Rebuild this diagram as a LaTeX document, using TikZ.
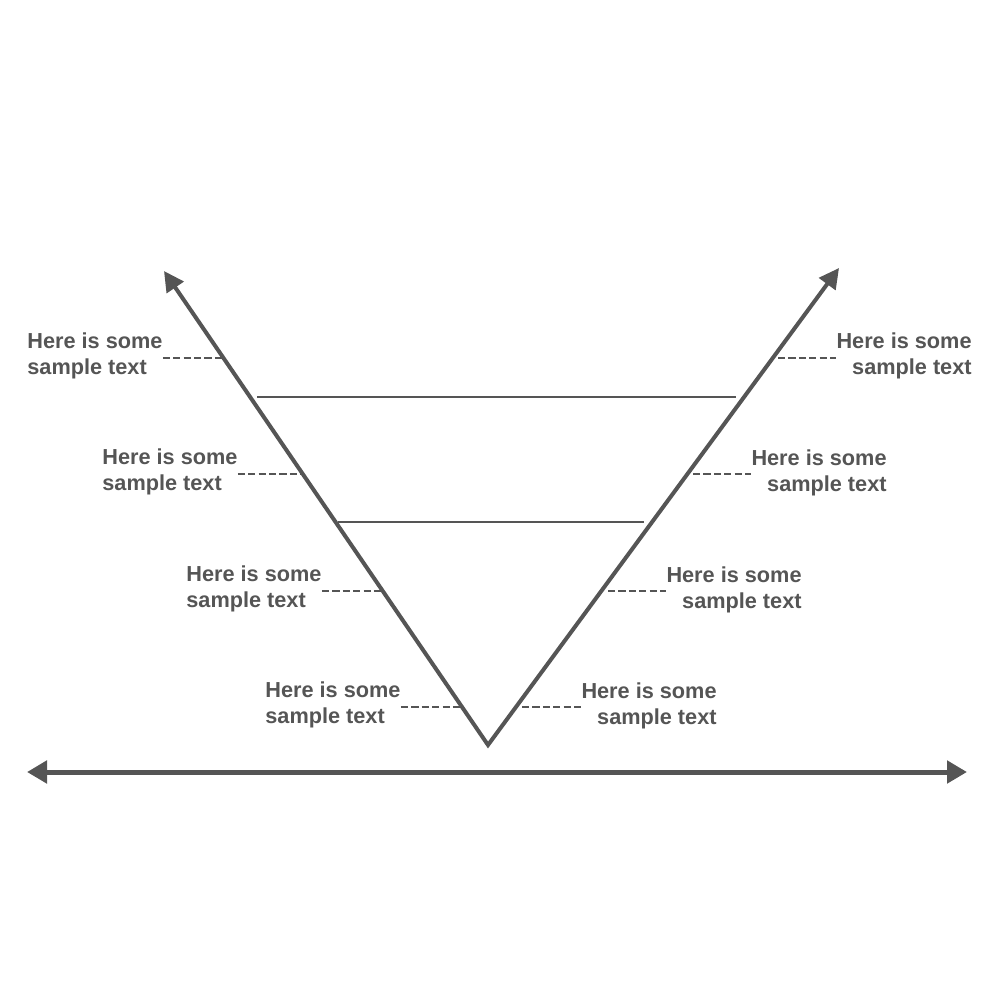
\documentclass[tikz,border=0pt]{standalone}
\usepackage{fontspec}
\setmainfont{Liberation Sans}
\usetikzlibrary{arrows.meta,calc}
\definecolor{ink}{HTML}{555555}
\begin{document}
\begin{tikzpicture}[x=0.5pt,y=-0.5pt,
  vline/.style={draw=ink,line width=2pt,line join=miter,
    {Triangle[length=10pt,width=10pt]}-{Triangle[length=10pt,width=10pt]}},
  axis/.style={draw=ink,line width=2.5pt,
    {Triangle[length=10pt,width=11pt]}-{Triangle[length=10pt,width=11pt]}},
  level/.style={draw=ink,line width=1pt},
  leader/.style={draw=ink,line width=1.2pt,dash pattern=on 3.6pt off 1.6pt},
  lab/.style={inner sep=0pt,text=ink,font=\fontsize{10.85pt}{13pt}\selectfont\bfseries},
  labl/.style={lab,anchor=north west,align=left},
  labr/.style={lab,anchor=north east,align=right}]
\useasboundingbox (0,0) rectangle (1000,1000);
% V shape
\coordinate (B) at (488,745);
\coordinate (L) at (164,271);
\coordinate (R) at (839,268);
\draw[vline] (L) -- (B) -- (R);
% axis
\coordinate (ax1) at (27,772);
\coordinate (ax2) at (967,772);
\draw[axis] (ax1) -- (ax2);
% levels
\coordinate (h1a) at (257,397);
\coordinate (h1b) at (736,397);
\coordinate (h2a) at (338,522);
\coordinate (h2b) at (644,522);
\draw[level] (h1a) -- (h1b);
\draw[level] (h2a) -- (h2b);
% labels left
\node[labl] (labL1) at (27,332) {Here is some\\sample text};
\node[labl] (labL2) at (102,448) {Here is some\\sample text};
\node[labl] (labL3) at (186,565) {Here is some\\sample text};
\node[labl] (labL4) at (265,681) {Here is some\\sample text};
% labels right
\node[labr] (labR1) at (972,332) {Here is some\\sample text};
\node[labr] (labR2) at (887,449) {Here is some\\sample text};
\node[labr] (labR3) at (802,566) {Here is some\\sample text};
\node[labr] (labR4) at (717,682) {Here is some\\sample text};
% leader points on the V
\coordinate (dL1) at ($(B)!0.8165!(L)$);
\coordinate (dL2) at ($(B)!0.5717!(L)$);
\coordinate (dL3) at ($(B)!0.3249!(L)$);
\coordinate (dL4) at ($(B)!0.0802!(L)$);
\coordinate (dR1) at (778,358);
\coordinate (dR2) at (693,474);
\coordinate (dR3) at (608,591);
\coordinate (dR4) at (522,707);
\draw[leader] (labL1.north east |- dL1) -- (dL1);
\draw[leader] (labL2.north east |- dL2) -- (dL2);
\draw[leader] (labL3.north east |- dL3) -- (dL3);
\draw[leader] (labL4.north east |- dL4) -- (dL4);
\draw[leader] (dR1) -- (labR1.north west |- dR1);
\draw[leader] (dR2) -- (labR2.north west |- dR2);
\draw[leader] (dR3) -- (labR3.north west |- dR3);
\draw[leader] (dR4) -- (labR4.north west |- dR4);
\end{tikzpicture}
\end{document}
